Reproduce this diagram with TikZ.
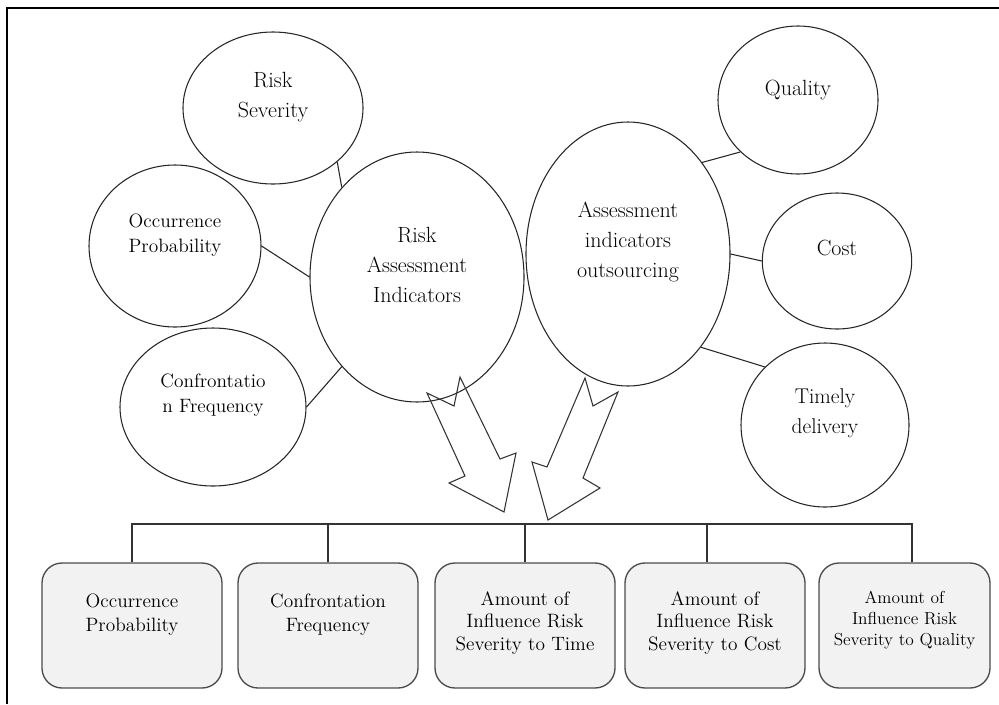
\documentclass[tikz,border=0pt]{standalone}
\usepackage{fontspec}
\usetikzlibrary{shapes.geometric}

\tikzset{
  bubble/.style={ellipse, draw=black!85, line width=0.8pt, inner sep=0pt},
  rbox/.style={draw=black!70, fill=black!5, rounded corners=15pt, line width=1pt,
    minimum width=135pt, minimum height=93.75pt, inner sep=0pt},
  bigtxt/.style={align=center, inner sep=0pt, font=\fontsize{16.5}{22.5}\selectfont},
  midtxt/.style={align=center, inner sep=0pt, font=\fontsize{14.5}{18.5}\selectfont},
  boxtxt/.style={align=center, inner sep=0pt, font=\fontsize{14.5}{17}\selectfont},
  link/.style={draw=black!85, line width=0.8pt},
  bus/.style={draw=black!80, line width=1.1pt},
  fatarrow/.style={draw=black!80, line width=0.8pt, line join=miter}
}

\begin{document}
\begin{tikzpicture}[x=0.75pt,y=-0.75pt]
\useasboundingbox (0,0) rectangle (999,704);

% frame
\draw[line width=1.5pt] (7,704) -- (7,8) -- (999,8);

% risk side
\node[bubble, minimum width=135pt, minimum height=114pt] (sev) at (273,108) {};
\node[bubble, minimum width=129pt, minimum height=121.5pt] (occ) at (175,246) {};
\node[bubble, minimum width=139.5pt, minimum height=118.5pt] (conf) at (213,407) {};
\node[bubble, minimum width=160.5pt, minimum height=187.5pt] (rai) at (417,277) {};

% outsourcing side
\node[bubble, minimum width=153pt, minimum height=198pt] (aio) at (628,254) {};
\node[bubble, minimum width=120pt, minimum height=111pt] (qual) at (798,100) {};
\node[bubble, minimum width=112pt, minimum height=102pt] (cost) at (837,261) {};
\node[bubble, minimum width=126pt, minimum height=123pt] (timely) at (825,425) {};

% texts in the ellipses
\node[bigtxt] (sevtxt) at ([yshift=8pt]sev.center) {Risk\\Severity};
\node[midtxt] (occtxt) at ([yshift=8pt]occ.center) {Occurrence\\Probability};
\node[midtxt] (conftxt) at ([yshift=9pt]conf.center) {Confrontatio\\n Frequency};
\node[bigtxt] (raitxt) at ([yshift=9pt]rai.center) {Risk\\Assessment\\Indicators};
\node[bigtxt] (aiotxt) at ([yshift=9pt]aio.center) {Assessment\\indicators\\outsourcing};
\node[bigtxt] (qualtxt) at ([yshift=7.5pt]qual.center) {Quality};
\node[bigtxt] (costtxt) at ([yshift=9.5pt]cost.center) {Cost};
\node[bigtxt, font=\fontsize{16}{22.5}\selectfont] (timelytxt) at ([yshift=9pt]timely.center) {Timely\\delivery};

% links
\draw[link] (sev.-40) -- (rai.130);
\draw[link] (occ.east) -- (rai.west);
\draw[link] (conf.east) -- (rai.230);
\draw[link] (aio.51) -- (qual.222);
\draw[link] (aio.east) -- (cost.west);
\draw[link] (aio.-52) -- (timely.136);

% big hollow arrows
\draw[fatarrow] (427,393) -- (454,406) -- (460,377) -- (500,459) -- (516,453)
  -- (504,512) -- (449,483) -- (465,476) -- cycle;
\draw[fatarrow] (585,378) -- (593,406) -- (618,392) -- (583,478) -- (600,488)
  -- (548,520) -- (532,462) -- (547,467) -- cycle;

% bottom row
\node[rbox] (b1) at (132,625.5) {};
\node[rbox] (b2) at (328,625.5) {};
\node[rbox] (b3) at (525,625.5) {};
\node[rbox] (b4) at (715,625.5) {};
\node[rbox, minimum width=128.25pt] (b5) at (904.5,625.5) {};

\node[midtxt, font=\fontsize{14.5}{18}\selectfont] (b1txt) at ([yshift=8pt]b1.center) {Occurrence\\Probability};
\node[midtxt, font=\fontsize{14.5}{18}\selectfont] (b2txt) at ([yshift=8pt]b2.center) {Confrontation\\Frequency};
\node[boxtxt] (b3txt) at ([yshift=2pt]b3.center) {Amount of\\Influence Risk\\Severity to Time};
\node[boxtxt] (b4txt) at ([yshift=2pt]b4.center) {Amount of\\Influence Risk\\Severity to Cost};
\node[boxtxt, font=\fontsize{13}{16}\selectfont] (b5txt) at ([yshift=4pt]b5.center) {Amount of\\Influence Risk\\Severity to Quality};

% tree lines
\coordinate (busL) at (132,524);
\coordinate (b4top) at ([xshift=-6pt]b4.north);
\coordinate (b5top) at ([xshift=5.6pt]b5.north);
\draw[bus] (b1.north) |- (b5top |- busL) -- (b5top);
\foreach \b in {b2.north,b3.north,b4top}
  \draw[bus] (\b) -- (\b |- busL);
\end{tikzpicture}
\end{document}
